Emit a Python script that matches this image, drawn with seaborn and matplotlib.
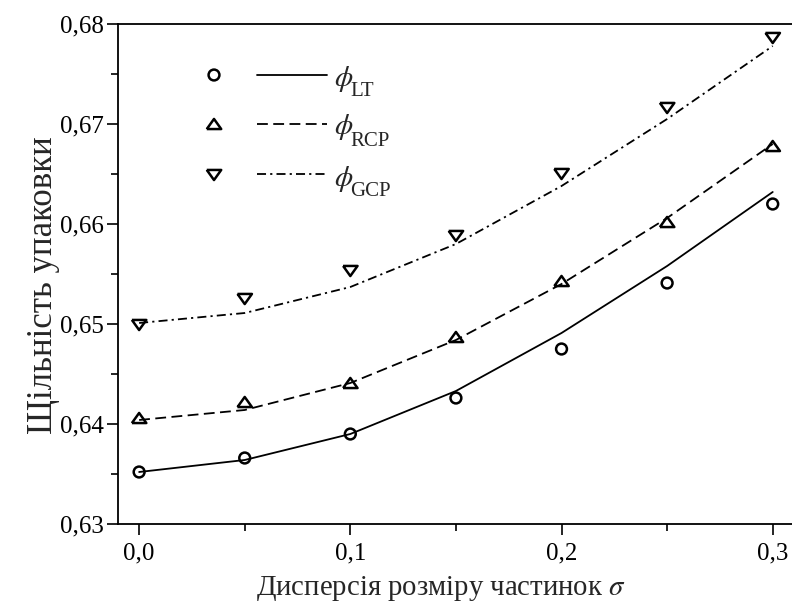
import numpy as np
import pandas as pd
import matplotlib
matplotlib.use("Agg")
import matplotlib.pyplot as plt
from matplotlib.ticker import FixedLocator, MultipleLocator
import seaborn as sns

# ---- data -------------------------------------------------------------
sigma = [0.0, 0.05, 0.10, 0.15, 0.20, 0.25, 0.30]

# simulated packing densities (markers)
phi_lt_pts = [0.6352, 0.6366, 0.6390, 0.6426, 0.6475, 0.6541, 0.6620]
phi_rcp_pts = [0.6406, 0.6422, 0.6441, 0.6487, 0.6543, 0.6602, 0.6678]
phi_gcp_pts = [0.6499, 0.6525, 0.6553, 0.6588, 0.6650, 0.6716, 0.6786]

# model curves (lines)
phi_lt_curve = [0.6352, 0.6364, 0.6390, 0.6433, 0.6491, 0.6558, 0.6632]
phi_rcp_curve = [0.6404, 0.6414, 0.6441, 0.6484, 0.6540, 0.6606, 0.6680]
phi_gcp_curve = [0.6501, 0.6511, 0.6537, 0.6580, 0.6638, 0.6705, 0.6778]

series_names = ["LT", "RCP", "GCP"]

xtick_values = [0.0, 0.1, 0.2, 0.3]
xtick_labels = ["0,0", "0,1", "0,2", "0,3"]
ytick_values = [0.63, 0.64, 0.65, 0.66, 0.67, 0.68]
ytick_labels = ["0,63", "0,64", "0,65", "0,66", "0,67", "0,68"]

x_label = "Дисперсія розміру частинок $\\sigma$"
y_label = "Щільність упаковки"

# ---- style ------------------------------------------------------------
sns.set_style("ticks")
plt.rcParams["font.family"] = ["Liberation Serif", "DejaVu Serif"]
plt.rcParams["mathtext.fontset"] = "stix"

W, H, DPI = 792, 609, 100
fig = plt.figure(figsize=(W / DPI, H / DPI), dpi=DPI)

# axes box in pixels: left spine at x=118, top at y=24, bottom at y=524
ax_left, ax_top, ax_bottom = 118, 24, 524
x_min, x_max = -0.01, 0.31
px_per_unit = 2112.0
ax_w = (x_max - x_min) * px_per_unit
ax_h = ax_bottom - ax_top
ax = fig.add_axes([ax_left / W, (H - ax_bottom) / H, ax_w / W, ax_h / H])

LW = 1.3
MEW = 1.8
line_styles = {
    "LT": "-",
    "RCP": (0, (6.0, 3.0)),
    "GCP": (0, (5.0, 2.3, 1.2, 2.3)),
}

# equilateral-looking triangles centred on their bounding box
tri_up = [(-1.0, -0.7), (1.0, -0.7), (0.0, 0.7), (-1.0, -0.7)]
tri_down = [(-1.0, 0.7), (1.0, 0.7), (0.0, -0.7), (-1.0, 0.7)]
markers = {"LT": "o", "RCP": tri_up, "GCP": tri_down}
marker_sizes = {"LT": 7.8, "RCP": 10.4, "GCP": 10.4}

points = {"LT": phi_lt_pts, "RCP": phi_rcp_pts, "GCP": phi_gcp_pts}
curves = {"LT": phi_lt_curve, "RCP": phi_rcp_curve, "GCP": phi_gcp_curve}

for name in series_names:
    df_c = pd.DataFrame({"sigma": sigma, "phi": curves[name]})
    sns.lineplot(data=df_c, x="sigma", y="phi", ax=ax, color="black",
                 linewidth=LW, linestyle=line_styles[name],
                 estimator=None, sort=False, legend=False)
    df_p = pd.DataFrame({"sigma": sigma, "phi": points[name]})
    sns.scatterplot(data=df_p, x="sigma", y="phi", ax=ax,
                    marker=markers[name], s=marker_sizes[name] ** 2,
                    facecolors="none", edgecolor="black", linewidths=MEW,
                    legend=False, zorder=3, clip_on=False)

ax.set_xlim(x_min, x_max)
ax.set_ylim(0.63, 0.68)

ax.xaxis.set_major_locator(FixedLocator(xtick_values))
ax.set_xticklabels(xtick_labels)
ax.xaxis.set_minor_locator(MultipleLocator(0.05))
ax.yaxis.set_major_locator(FixedLocator(ytick_values))
ax.set_yticklabels(ytick_labels)
ax.yaxis.set_minor_locator(MultipleLocator(0.005))

ax.tick_params(which="major", direction="out", length=8, width=1.2,
               labelsize=18, pad=2, color="black", labelcolor="black")
ax.tick_params(which="minor", direction="out", length=5, width=1.2,
               color="black")
ax.tick_params(axis="x", which="major", pad=5)

for side in ["left", "bottom", "top"]:
    ax.spines[side].set_linewidth(1.3)
    ax.spines[side].set_color("black")
ax.spines["right"].set_visible(False)


def ax_x(px):
    return (px - ax_left) / ax_w


def ax_y(py):
    return 1 - (py - ax_top) / ax_h


ax.set_xlabel(x_label, fontsize=20.7)
ax.xaxis.set_label_coords(ax_x(441), ax_y(574))
ax.set_ylabel(y_label, fontsize=25)
ax.yaxis.set_label_coords(ax_x(60), ax_y(285))

# ---- key: marker, line sample, symbol with subscript ------------------
key_rows = [74.5, 123.5, 174.5]
for name, row in zip(series_names, key_rows):
    ax.scatter([ax_x(214)], [ax_y(row + 0.5)], transform=ax.transAxes,
               marker=markers[name], s=marker_sizes[name] ** 2,
               facecolors="none", edgecolors="black", linewidths=MEW,
               clip_on=False, zorder=4)
    ax.plot([ax_x(257), ax_x(327)], [ax_y(row)] * 2,
            transform=ax.transAxes, color="black", linewidth=LW,
            linestyle=line_styles[name], clip_on=False)
    ax.text(ax_x(334), ax_y(row + 11), "$\\phi$",
            transform=ax.transAxes, fontsize=21, ha="left", va="baseline")
    ax.text(ax_x(350), ax_y(row + 22), name,
            transform=ax.transAxes, fontsize=15, ha="left", va="baseline")

fig.savefig("out.png", dpi=DPI)
